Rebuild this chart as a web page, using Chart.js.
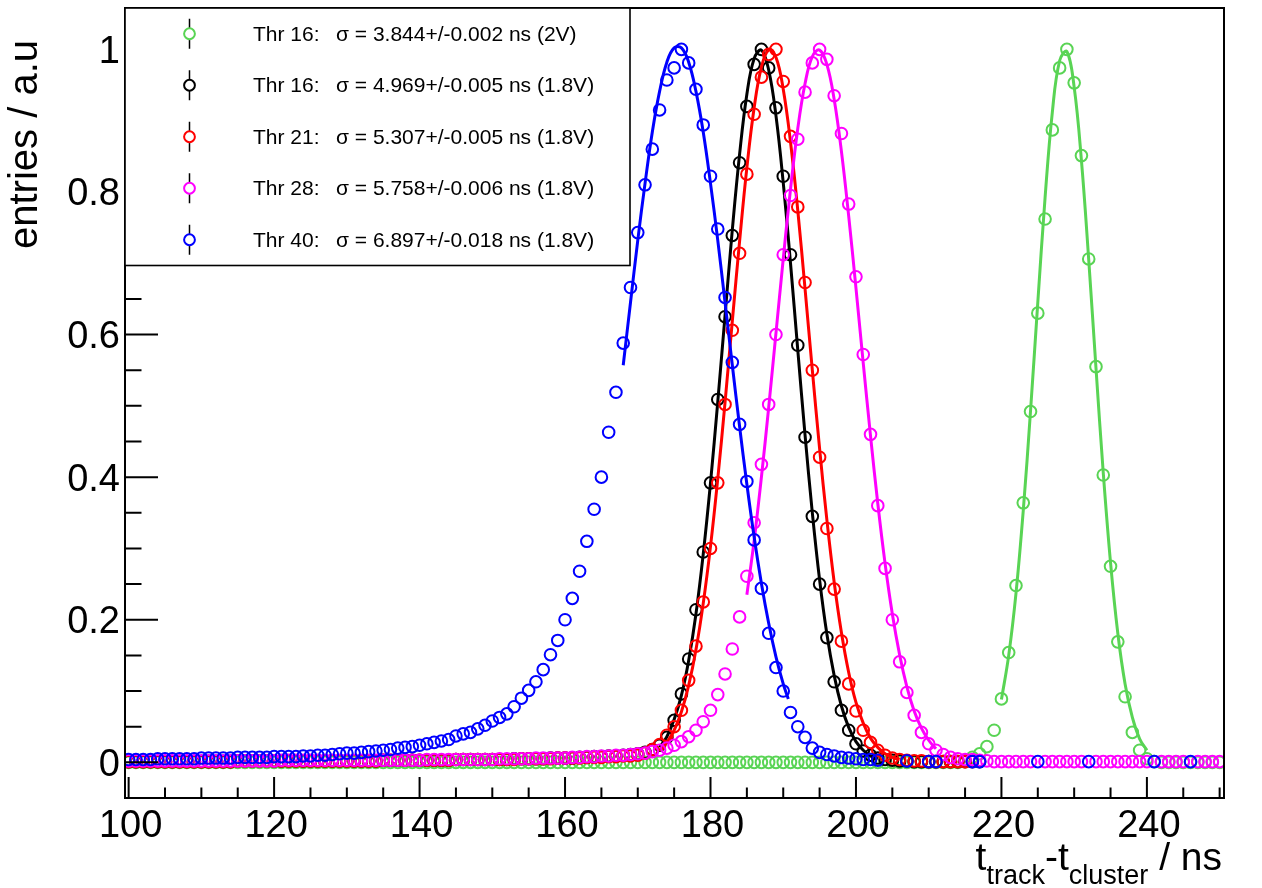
<!DOCTYPE html>
<html>
<head>
<meta charset="utf-8">
<script src="https://cdn.jsdelivr.net/npm/chart.js@4.4.1/dist/chart.umd.min.js"></script>
<style>
html,body{margin:0;padding:0;background:#fff;}
#wrap{width:1262px;height:888px;position:relative;}
</style>
</head>
<body>
<div id="wrap"><canvas id="c"></canvas></div>
<script>
// ---------- DATA ----------
const xBins = [
100,101,102,103,104,105,106,107,108,109,
110,111,112,113,114,115,116,117,118,119,
120,121,122,123,124,125,126,127,128,129,
130,131,132,133,134,135,136,137,138,139,
140,141,142,143,144,145,146,147,148,149,
150,151,152,153,154,155,156,157,158,159,
160,161,162,163,164,165,166,167,168,169,
170,171,172,173,174,175,176,177,178,179,
180,181,182,183,184,185,186,187,188,189,
190,191,192,193,194,195,196,197,198,199,
200,201,202,203,204,205,206,207,208,209,
210,211,212,213,214,215,216,217,218,219,
220,221,222,223,224,225,226,227,228,229,
230,231,232,233,234,235,236,237,238,239,
240,241,242,243,244,245,246,247,248,249,
250];

// Thr 16 (2V) - green
const thr16_2V = [
0,0,0,0,0,0,0,0,0,0,
0,0,0,0,0,0,0,0,0,0,
0,0,0,0,0,0,0,0,0,0,
0,0,0,0,0,0,0,0,0,0,
0,0,0,0,0,0,0,0,0,0,
0,0,0,0,0,0,0,0,0,0,
0,0,0,0,0,0,0,0,0,0,
0,0,0,0,0,0,0,0,0,0,
0,0,0,0,0,0,0,0,0,0,
0,0,0,0,0,0,0,0,0,0,
0,0,0,0,0,0,0,0,0,0,
0,0,0,0,0,0.002,0.007,0.012,0.022,0.045,
0.089,0.154,0.248,0.364,0.492,0.630,0.762,0.887,0.974,1.000,
0.953,0.851,0.706,0.555,0.403,0.275,0.169,0.092,0.042,0.017,
0.005,0.001,0,0,0,0,0,0,0,0,
0];

// Thr 16 (1.8V) - black
const thr16_18V = [
0.001,0.001,0.001,0.001,0.001,0.001,0.001,0.001,0.001,0.001,
0.001,0.001,0.001,0.001,0.001,0.002,0.002,0.002,0.002,0.002,
0.002,0.002,0.002,0.002,0.002,0.002,0.002,0.002,0.002,0.002,
0.002,0.002,0.002,0.002,0.002,0.003,0.003,0.003,0.003,0.003,
0.003,0.003,0.003,0.003,0.003,0.004,0.004,0.004,0.004,0.004,
0.004,0.004,0.004,0.005,0.005,0.005,0.005,0.005,0.006,0.006,
0.006,0.006,0.007,0.007,0.008,0.008,0.009,0.009,0.010,0.011,
0.012,0.014,0.018,0.024,0.035,0.059,0.096,0.145,0.214,0.295,
0.392,0.509,0.625,0.739,0.841,0.920,0.979,1.000,0.974,0.918,
0.822,0.712,0.585,0.456,0.345,0.250,0.175,0.113,0.073,0.045,
0.026,0.016,0.010,0.006,0.004,0.003,0.002,0.002,0.001,0.001,
0.001,0.001,0.001,0.001,0.001,0.001,0.001,0.001,null,null,
null,null,null,null,null,null,null,null,null,null,
null,null,null,null,null,null,null,null,null,null,
null,null,null,null,null,null,null,null,null,null,
null];

// Thr 21 (1.8V) - red
const thr21_18V = [
0.001,0.001,0.001,0.001,0.001,0.001,0.001,0.001,0.001,0.001,
0.001,0.001,0.001,0.001,0.001,0.002,0.002,0.002,0.002,0.002,
0.002,0.002,0.002,0.002,0.002,0.002,0.002,0.002,0.002,0.002,
0.002,0.002,0.002,0.002,0.002,0.003,0.003,0.003,0.003,0.003,
0.003,0.003,0.003,0.003,0.003,0.004,0.004,0.004,0.004,0.004,
0.004,0.004,0.004,0.004,0.005,0.005,0.005,0.005,0.005,0.006,
0.006,0.006,0.006,0.007,0.007,0.007,0.008,0.008,0.009,0.009,
0.010,0.013,0.018,0.025,0.038,0.050,0.073,0.115,0.163,0.225,
0.300,0.392,0.502,0.606,0.714,0.825,0.909,0.961,0.993,1.000,
0.955,0.878,0.779,0.673,0.550,0.428,0.328,0.243,0.170,0.110,
0.072,0.045,0.028,0.017,0.010,0.006,0.004,0.003,0.002,0.002,
0.001,0.001,0.001,0.001,0.001,0.001,null,null,null,null,
null,null,null,null,null,null,null,null,null,null,
null,null,null,null,null,null,null,null,null,null,
null,null,null,null,null,null,null,null,null,null,
null];

// Thr 28 (1.8V) - magenta
const thr28_18V = [
0.002,0.002,0.002,0.002,0.002,0.002,0.002,0.002,0.002,0.002,
0.002,0.002,0.002,0.002,0.002,0.002,0.002,0.002,0.002,0.002,
0.002,0.003,0.003,0.003,0.003,0.003,0.003,0.003,0.003,0.003,
0.003,0.003,0.003,0.003,0.003,0.003,0.003,0.003,0.003,0.003,
0.003,0.004,0.004,0.004,0.004,0.004,0.004,0.004,0.004,0.004,
0.004,0.005,0.005,0.005,0.005,0.005,0.006,0.006,0.006,0.006,
0.006,0.007,0.007,0.008,0.008,0.009,0.009,0.010,0.010,0.011,
0.012,0.013,0.015,0.017,0.020,0.024,0.029,0.036,0.045,0.057,
0.073,0.095,0.124,0.159,0.204,0.261,0.336,0.418,0.502,0.600,
0.712,0.795,0.874,0.940,0.981,1.000,0.986,0.935,0.882,0.783,
0.681,0.572,0.460,0.360,0.272,0.200,0.141,0.098,0.066,0.042,
0.026,0.017,0.011,0.007,0.005,0.004,0.004,0.003,0.002,0.001,
0.001,0.001,0.001,0.001,0.001,null,0.001,0.001,0.001,0.001,
0.001,0.001,null,0.001,0.001,0.001,0.001,0.001,0.001,0.001,
0.001,null,0.001,0.001,0.001,0.001,null,0.001,0.001,0.001,
0.001];

// Thr 40 (1.8V) - blue
const thr40_18V = [
0.004,0.004,0.004,0.004,0.005,0.005,0.005,0.005,0.005,0.005,
0.006,0.006,0.006,0.006,0.006,0.007,0.007,0.007,0.007,0.007,
0.008,0.008,0.008,0.008,0.009,0.009,0.010,0.010,0.011,0.012,
0.013,0.013,0.014,0.015,0.016,0.017,0.018,0.020,0.021,0.022,
0.024,0.026,0.028,0.030,0.032,0.037,0.040,0.042,0.047,0.052,
0.058,0.063,0.068,0.078,0.090,0.101,0.113,0.130,0.151,0.171,
0.200,0.230,0.268,0.310,0.355,0.400,0.463,0.519,0.588,0.666,
0.743,0.810,0.860,0.915,0.957,0.974,1.000,0.981,0.944,0.894,
0.822,0.748,0.652,0.561,0.474,0.394,0.312,0.244,0.181,0.133,
0.100,0.070,0.050,0.035,0.020,0.014,0.011,0.009,0.007,0.006,
0.005,0.004,0.004,0.003,null,null,null,0.002,null,null,
0.001,0.001,null,null,null,null,0.001,0.001,null,null,
null,null,null,null,null,0.001,null,null,null,null,
null,null,0.001,null,null,null,null,null,null,null,
null,0.001,null,null,null,null,0.001,null,null,null,
null];

// Gaussian fit curves
const fitGreenX = [220,221,222,223,224,225,226,227,228,229,230,231,232,233,234,235,236,237,238,239,240];
const fitGreenY = [0.088,0.150,0.237,0.353,0.493,0.645,0.792,0.912,0.984,0.997,0.947,0.844,0.705,0.553,0.406,0.280,0.181,0.110,0.063,0.033,0.017];

const fitBlackX = [173,174,175,176,177,178,179,180,181,182,183,184,185,186,187,188,189,190,191,192,193,194,195,196,197,198,199,200,201,202,203];
const fitBlackY = [0.021,0.036,0.060,0.094,0.143,0.208,0.292,0.392,0.506,0.627,0.747,0.853,0.937,0.987,0.999,0.971,0.907,0.813,0.700,0.578,0.459,0.350,0.256,0.180,0.122,0.079,0.049,0.029,0.017,0.009,0.005];

const fitRedX = [173,174,175,176,177,178,179,180,181,182,183,184,185,186,187,188,189,190,191,192,193,194,195,196,197,198,199,200,201,202,203,204,205,206];
const fitRedY = [0.017,0.028,0.045,0.071,0.108,0.158,0.223,0.303,0.398,0.505,0.619,0.731,0.834,0.918,0.975,0.999,0.989,0.944,0.870,0.774,0.664,0.550,0.440,0.340,0.253,0.182,0.126,0.084,0.055,0.034,0.021,0.012,0.007,0.004];

const fitMagentaX = [185,186,187,188,189,190,191,192,193,194,195,196,197,198,199,200,201,202,203,204,205,206,207,208,209,210,211];
const fitMagentaY = [0.235,0.311,0.400,0.498,0.602,0.706,0.804,0.889,0.952,0.990,0.999,0.979,0.930,0.857,0.766,0.665,0.560,0.458,0.363,0.279,0.208,0.151,0.106,0.072,0.048,0.031,0.019];

const fitBlueX = [168,169,170,171,172,173,174,175,176,177,178,179,180,181,182,183,184,185,186,187,188,189,190,190.7];
const fitBlueY = [0.557,0.645,0.732,0.812,0.884,0.941,0.982,1.002,1.002,0.982,0.941,0.884,0.812,0.732,0.645,0.557,0.471,0.390,0.316,0.251,0.195,0.148,0.110,0.089];

const xTickLabels = [100,120,140,160,180,200,220,240];
const yTickLabels = [0,0.2,0.4,0.6,0.8,1];
const xMinorStep = 5;
const yMinorStep = 0.05;

const legendThr = ['Thr 16:','Thr 16:','Thr 21:','Thr 28:','Thr 40:'];
const legendSigma = [
  '\u03c3 = 3.844+/-0.002 ns (2V)',
  '\u03c3 = 4.969+/-0.005 ns (1.8V)',
  '\u03c3 = 5.307+/-0.005 ns (1.8V)',
  '\u03c3 = 5.758+/-0.006 ns (1.8V)',
  '\u03c3 = 6.897+/-0.018 ns (1.8V)'
];
const seriesColors = ['#59d454','#000000','#ff0000','#ff00ff','#0000ff'];
const yTitle = 'entries / a.u';

// ---------- BUILD ----------
const FONT = '"Liberation Sans", Arial, Helvetica, sans-serif';
function pts(vals){
  const out = [];
  xBins.forEach((x,i)=>{ if (vals[i] !== null) out.push({x:x, y:vals[i]}); });
  return out;
}
function curve(xs, ys){ return xs.map((x,i)=>({x:x, y:ys[i]})); }

const pointSeries = [thr16_2V, thr16_18V, thr21_18V, thr28_18V, thr40_18V];
const fitSeries = [[fitGreenX,fitGreenY],[fitBlackX,fitBlackY],[fitRedX,fitRedY],[fitMagentaX,fitMagentaY],[fitBlueX,fitBlueY]];
const MARKER_R = 5.8;

const datasets = [];
pointSeries.forEach((vals, i) => {
  const col = seriesColors[i];
  datasets.push({
    label: legendThr[i] + ' ' + legendSigma[i],
    data: pts(vals),
    showLine: false,
    pointStyle: 'circle',
    pointRadius: MARKER_R,
    pointHoverRadius: MARKER_R,
    pointBorderWidth: 2,
    pointBorderColor: col,
    pointBackgroundColor: 'rgba(0,0,0,0)',
    order: 10 - 2*i
  });
  datasets.push({
    label: 'fit ' + i,
    data: curve(fitSeries[i][0], fitSeries[i][1]),
    showLine: true,
    borderColor: col,
    borderWidth: 3,
    pointRadius: 0,
    pointHoverRadius: 0,
    tension: 0.4,
    fill: false,
    order: 9 - 2*i
  });
});

const rootPlugin = {
  id: 'rootStyle',
  afterDatasetsDraw(chart) {
    const ctx = chart.ctx, a = chart.chartArea, x = chart.scales.x, y = chart.scales.y;
    ctx.save();
    ctx.strokeStyle = '#000';
    ctx.lineWidth = 2;
    ctx.beginPath();
    // x ticks (inside, upward)
    for (let k = 0; ; k++) {
      const v = xTickLabels[0] + k * xMinorStep;
      if (v > x.max + 1e-9) break;
      const px = x.getPixelForValue(v);
      const major = xTickLabels.indexOf(v) >= 0;
      ctx.moveTo(px, a.bottom);
      ctx.lineTo(px, a.bottom - (major ? 21 : 10.5));
    }
    // y ticks (inside, rightward)
    for (let k = -1; k <= 22; k++) {
      const v = yTickLabels[0] + k * yMinorStep;
      if (v < y.min - 1e-9 || v > y.max + 1e-9) continue;
      const py = y.getPixelForValue(v);
      const major = (k % 4 === 0);
      ctx.moveTo(a.left, py);
      ctx.lineTo(a.left + (major ? 33 : 16.5), py);
    }
    ctx.stroke();
    // frame
    ctx.strokeRect(a.left, a.top, a.right - a.left, a.bottom - a.top);

    // legend box
    const lx = a.left, ly = a.top, lw = 505, lh = 257.5;
    ctx.fillStyle = '#fff';
    ctx.fillRect(lx, ly, lw, lh);
    ctx.lineWidth = 1.6;
    ctx.strokeRect(lx, ly, lw, lh);
    ctx.font = '21px ' + FONT;
    ctx.textBaseline = 'middle';
    ctx.textAlign = 'left';
    for (let i = 0; i < 5; i++) {
      const cy = ly + (i + 0.5) * lh / 5;
      const cx = 189.5;
      ctx.strokeStyle = '#000';
      ctx.lineWidth = 1.5;
      ctx.beginPath();
      ctx.moveTo(cx, cy - 15); ctx.lineTo(cx, cy - 5.5);
      ctx.moveTo(cx, cy + 5.5); ctx.lineTo(cx, cy + 15);
      ctx.stroke();
      ctx.strokeStyle = seriesColors[i];
      ctx.lineWidth = 2;
      ctx.beginPath();
      ctx.arc(cx, cy, 5.4, 0, Math.PI * 2);
      ctx.stroke();
      ctx.fillStyle = '#000';
      ctx.fillText(legendThr[i], 253, cy + 1);
      ctx.fillText(legendSigma[i], 336, cy + 1);
    }
    ctx.restore();
  },
  afterDraw(chart) {
    const ctx = chart.ctx;
    ctx.save();
    ctx.fillStyle = '#000';
    // y title
    ctx.font = '40px ' + FONT;
    ctx.translate(37, 40);
    ctx.rotate(-Math.PI / 2);
    ctx.textAlign = 'right';
    ctx.textBaseline = 'alphabetic';
    ctx.fillText(yTitle, 0, 0);
    ctx.restore();

    // x title: t_track-t_cluster / ns
    ctx.save();
    ctx.fillStyle = '#000';
    ctx.textBaseline = 'alphabetic';
    ctx.textAlign = 'left';
    const parts = [['t', 0], ['track', 1], ['-t', 0], ['cluster', 1], [' / ns', 0]];
    const mainF = '39px ' + FONT, subF = '27px ' + FONT;
    let total = 0;
    parts.forEach(p => { ctx.font = p[1] ? subF : mainF; total += ctx.measureText(p[0]).width; });
    let xp = 1222 - total;
    parts.forEach(p => {
      ctx.font = p[1] ? subF : mainF;
      ctx.fillText(p[0], xp, p[1] ? 884 : 870);
      xp += ctx.measureText(p[0]).width;
    });
    ctx.restore();
  }
};

new Chart(document.getElementById('c'), {
  type: 'scatter',
  data: { datasets: datasets },
  options: {
    responsive: true,
    maintainAspectRatio: false,
    animation: false,
    events: [],
    layout: { padding: { left: 0, top: 8, right: 38, bottom: 0 } },
    plugins: { legend: { display: false }, tooltip: { enabled: false }, title: { display: false } },
    scales: {
      x: {
        type: 'linear', min: 99.5, max: 250.6,
        grid: { display: false, drawTicks: false },
        border: { display: false },
        ticks: {
          font: { family: FONT, size: 38 }, color: '#000', padding: 6, labelOffset: 2,
          maxRotation: 0, minRotation: 0, autoSkip: false,
          callback: v => String(v)
        },
        afterBuildTicks: s => { s.ticks = xTickLabels.map(v => ({ value: v })); },
        afterFit: s => { s.height = 90; s.paddingLeft = 0; s.paddingRight = 0; s.paddingTop = 0; s.paddingBottom = 0; }
      },
      y: {
        type: 'linear', min: -0.05, max: 1.058,
        grid: { display: false, drawTicks: false },
        border: { display: false },
        ticks: {
          font: { family: FONT, size: 38 }, color: '#000', padding: 5, labelOffset: 3,
          autoSkip: false,
          callback: v => String(v)
        },
        afterBuildTicks: s => { s.ticks = yTickLabels.map(v => ({ value: v })); },
        afterFit: s => { s.width = 125; s.paddingTop = 0; s.paddingBottom = 0; s.paddingLeft = 0; s.paddingRight = 0; }
      }
    }
  },
  plugins: [rootPlugin]
});
</script>
</body>
</html>
